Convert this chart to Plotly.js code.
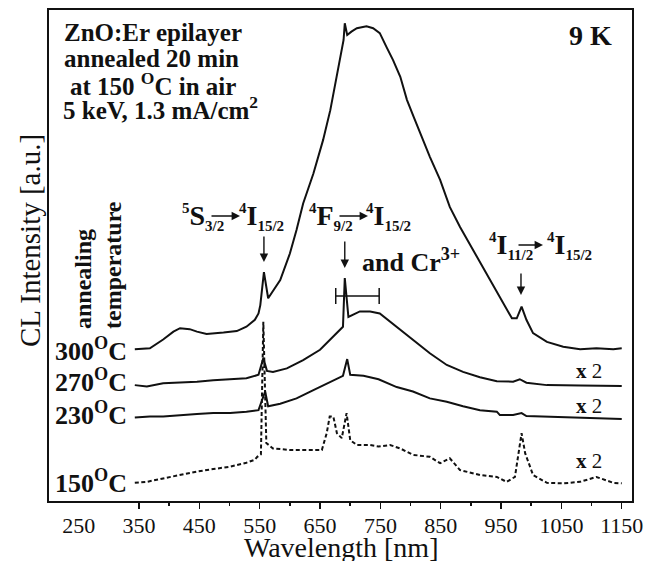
<!DOCTYPE html>
<html>
<head>
<meta charset="utf-8">
<script src="https://cdn.plot.ly/plotly-3.0.1.min.js"></script>
<style>
  html, body { margin: 0; padding: 0; background: #fff; }
  #chart { width: 646px; height: 561px; }
</style>
</head>
<body>
<div id="chart"></div>
<script>
// Cathodoluminescence spectra of a ZnO:Er epilayer at 9 K for several
// annealing temperatures. Spectra are stacked with vertical offsets
// (arbitrary units on a 0-100 scale).

// 300 °C anneal
const wl300 = [343, 368, 390, 407, 418, 434, 446, 462, 490, 512, 528, 542, 548, 551, 557, 564,
               584, 600, 611, 622, 639, 655, 667, 678, 686, 689, 691, 695, 702, 711, 719, 727,
               738, 749, 760, 771, 783, 794, 805, 816, 832, 849, 865, 882, 904, 932, 954, 968,
               976, 984, 992, 1003, 1026, 1053, 1081, 1108, 1136, 1150];
const cl300 = [30.9, 31.1, 32.9, 34.5, 35.2, 35.0, 34.5, 34.0, 34.3, 34.6, 35.5, 36.9, 38.2, 39.9, 46.6, 41.3,
               45.0, 50.4, 55.2, 60.6, 66.7, 73.5, 79.6, 86.4, 91.9, 93.9, 97.3, 94.9, 95.6, 96.3, 96.5, 96.7,
               96.3, 95.3, 92.5, 89.8, 86.4, 81.7, 78.3, 74.9, 70.1, 65.4, 59.9, 55.8, 51.1, 45.0, 40.3, 37.2,
               37.2, 39.6, 36.9, 34.2, 32.4, 31.4, 30.9, 31.1, 30.9, 31.1];

// 270 °C anneal (x2)
const wl270 = [343, 363, 390, 418, 446, 473, 501, 528, 548, 556, 562, 572, 595, 622, 650, 672, 688,
               691, 697, 716, 733, 749, 777, 804, 832, 860, 887, 915, 943, 970, 981, 992, 1026, 1081, 1150];
const cl270 = [23.6, 23.3, 24.0, 24.1, 24.3, 24.6, 24.8, 25.0, 25.7, 29.1, 26.5, 26.3, 27.0, 28.7, 30.8, 33.5, 35.5,
               45.4, 37.5, 38.6, 38.6, 38.2, 35.5, 32.8, 30.1, 27.7, 26.3, 25.2, 24.4, 24.3, 24.8, 24.1, 23.6, 23.5, 23.4];

// 230 °C anneal (x2)
const wl230 = [343, 368, 390, 418, 446, 473, 501, 528, 548, 559, 564, 584, 611, 639, 667, 688, 695,
               700, 722, 747, 777, 804, 832, 860, 887, 915, 943, 948, 970, 984, 992, 1026, 1081, 1150];
const cl230 = [17.0, 17.2, 17.2, 17.5, 17.7, 17.9, 17.9, 18.2, 18.5, 22.3, 19.3, 19.8, 20.9, 22.6, 24.3, 25.5, 28.9,
               25.7, 25.5, 24.8, 23.2, 22.3, 20.9, 20.2, 19.3, 18.5, 18.2, 17.5, 17.5, 17.9, 17.3, 17.2, 17.0, 16.7];

// 150 °C anneal (x2)
const wl150 = [343, 363, 390, 418, 446, 473, 501, 528, 542, 546, 552, 556, 561, 572, 600, 628, 653, 661,
               666, 672, 678, 686, 694, 700, 711, 733, 747, 766, 783, 804, 832, 849, 865, 882, 915, 943,
               959, 973, 984, 990, 1003, 1026, 1053, 1081, 1108, 1136, 1150];
const cl150 = [3.7, 3.9, 4.6, 5.3, 6.0, 6.5, 7.0, 7.8, 8.4, 9.0, 9.5, 36.5, 11.8, 10.7, 10.4, 10.4, 10.4, 13.8,
               17.2, 17.2, 13.8, 12.8, 17.9, 12.4, 11.4, 11.4, 11.1, 11.4, 10.7, 9.4, 9.0, 7.7, 8.7, 6.3, 5.3, 4.9,
               3.9, 4.9, 13.8, 9.7, 5.3, 3.7, 3.6, 3.9, 4.9, 3.7, 3.6];

const annealTemps = ['300', '270', '230', '150'];
const scaleFactors = ['', '2', '2', '2'];
const xTicks = [250, 350, 450, 550, 650, 750, 850, 950, 1050, 1150];
const erLines = [557, 691, 983];      // Er3+ emission lines marked with arrows (nm)
const crBand = [676, 748];            // extent of the Cr3+ band (nm)

const SERIF = '"Liberation Serif", "Times New Roman", Times, serif';
const INK = '#111';

// plot-area frame in page pixels, and helpers for placing text in it
const L = 49, T = 10, R = 632, B = 501;
const px = x => (x - L) / (R - L);
const py = y => (B - y) / (B - T);

function text(str, x, y, size, extra) {
  return Object.assign({
    xref: 'paper', yref: 'paper', x: px(x), y: py(y), text: str, showarrow: false,
    xanchor: 'center', yanchor: 'middle',
    font: { family: SERIF, size: size, color: INK }
  }, extra || {});
}
function arrow(xref, x, yTip, ax, ay) {
  return {
    xref: xref, yref: 'paper', x: xref === 'paper' ? px(x) : x, y: py(yTip),
    ax: ax, ay: ay, text: '', showarrow: true,
    arrowhead: 2, arrowsize: 1.2, arrowwidth: 1.4, arrowcolor: INK, standoff: 0
  };
}
const small = s => `<span style="font-size:15px">${s}</span>`;
const level = (mult, term, j) => `<b><sup>${small(mult)}</sup>${term}<sub>${small(j)}</sub></b>`;

const lineStyle = { color: INK, width: 2 };
const traces = [
  { x: wl300, y: cl300, mode: 'lines', line: lineStyle, name: annealTemps[0] },
  { x: wl270, y: cl270, mode: 'lines', line: lineStyle, name: annealTemps[1] },
  { x: wl230, y: cl230, mode: 'lines', line: lineStyle, name: annealTemps[2] },
  { x: wl150, y: cl150, mode: 'lines', line: { color: INK, width: 2, dash: '4px,2.5px' }, name: annealTemps[3] },
  // carries the tick marks of the overlaid bottom axis
  { x: [], y: [], xaxis: 'x2', mode: 'lines', showlegend: false, hoverinfo: 'skip' }
];

const tempY = [349, 380, 413, 481];
const factorY = [0, 371, 406, 461];

const annotations = [
  text('<b>ZnO:Er epilayer</b>', 153, 33, 25),
  text('<b>annealed 20 min</b>', 151, 58, 25),
  text('<b>at 150 <sup>O</sup>C in air</b>', 153, 84, 25),
  text('<b>5 keV, 1.3 mA/cm<sup>2</sup></b>', 160, 108, 25),
  text('<b>9 K</b>', 590, 36, 28),
  text('<b>annealing</b>', 83, 279, 24, { textangle: -90 }),
  text('<b>temperature</b>', 113, 265, 24, { textangle: -90 }),
  // transition labels
  text(level('5', 'S', '3/2'), 180, 217, 28, { xanchor: 'left' }),
  text(level('4', 'I', '15/2'), 286, 217, 28, { xanchor: 'right' }),
  text(level('4', 'F', '9/2'), 307, 217, 28, { xanchor: 'left' }),
  text(level('4', 'I', '15/2'), 413, 217, 28, { xanchor: 'right' }),
  text(level('4', 'I', '11/2'), 487, 246, 28, { xanchor: 'left' }),
  text(level('4', 'I', '15/2'), 594, 246, 28, { xanchor: 'right' }),
  text('<b>and Cr<sup>3+</sup></b>', 360, 260, 26, { xanchor: 'left' }),
  arrow('paper', 240, 216, -30, 0),
  arrow('paper', 368, 216, -30, 0),
  arrow('paper', 543, 245, -26, 0),
  // markers over the Er3+ lines
  arrow('x', erLines[0], 262, 0, -27),
  arrow('x', erLines[1], 268, 0, -28),
  arrow('x', erLines[2], 295, 0, -23),
  // axis titles
  text('CL Intensity [a.u.]', 30, 241, 29, { textangle: -90 }),
  text('Wavelength [nm]', 341, 547, 28)
];
annealTemps.forEach((t, i) => {
  annotations.push(text(`<b>${t}<sup>O</sup>C</b>`, 129, tempY[i], 26, { xanchor: 'right' }));
  if (scaleFactors[i]) {
    annotations.push(text(`<b>x</b> ${scaleFactors[i]}`, 589, factorY[i], 21));
  }
});

const bracketY = 296, capHalf = 8;
const shapes = [
  { type: 'line', xref: 'x', yref: 'paper', x0: crBand[0], x1: crBand[1], y0: py(bracketY), y1: py(bracketY), line: { color: INK, width: 1.5 } },
  ...crBand.map(v => ({ type: 'line', xref: 'x', yref: 'paper', x0: v, x1: v,
    y0: py(bracketY - capHalf), y1: py(bracketY + capHalf), line: { color: INK, width: 1.5 } }))
];

const xRange = [200.8, 1167];
const majorTicks = xTicks.filter(v => v >= 350);
const minorTicks = majorTicks.slice(1).map((v, i) => (v + majorTicks[i]) / 2);

const layout = {
  width: 646, height: 561,
  margin: { l: L, r: 646 - R, t: T, b: 561 - B },
  paper_bgcolor: '#fff', plot_bgcolor: '#fff',
  showlegend: false,
  font: { family: SERIF, color: INK },
  xaxis: {
    range: xRange, showgrid: false, zeroline: false,
    showline: true, mirror: true, linecolor: INK, linewidth: 1.8,
    ticks: '', tickvals: xTicks, ticktext: xTicks.map(String),
    tickfont: { family: SERIF, size: 22, color: INK }, ticklabelstandoff: 4
  },
  xaxis2: {
    overlaying: 'x', anchor: 'y', side: 'bottom', range: xRange,
    showgrid: false, zeroline: false, showline: false, showticklabels: false,
    ticks: 'outside', tickvals: majorTicks, ticklen: 7, tickwidth: 1.5, tickcolor: INK,
    minor: { tickvals: minorTicks, ticks: 'outside', ticklen: 4, tickwidth: 1.5, tickcolor: INK }
  },
  yaxis: {
    range: [0, 100], showgrid: false, zeroline: false,
    showline: true, mirror: true, linecolor: INK, linewidth: 1.8,
    ticks: '', showticklabels: false
  },
  annotations: annotations,
  shapes: shapes
};

Plotly.newPlot('chart', traces, layout, { displayModeBar: false, staticPlot: true });
</script>
</body>
</html>
